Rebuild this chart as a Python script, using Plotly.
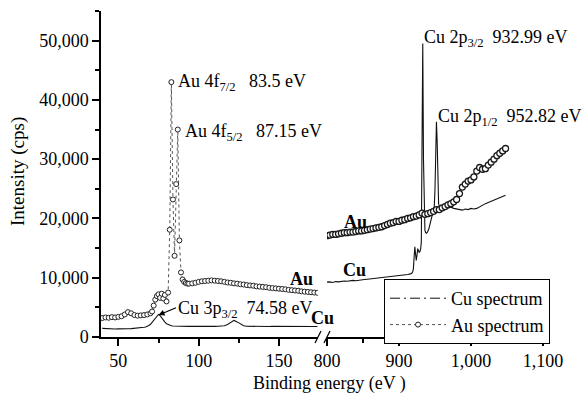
import plotly.graph_objects as go

# ---------------- data ----------------
# Au spectrum, low binding-energy window (eV, cps)
AU_L_E = list(range(40, 71, 2)) + list(range(71, 82)) + list(range(82, 94)) + list(range(94, 175, 2))
AU_L_V = ([3200, 3300, 3250, 3350, 3300, 3400, 3500, 3800, 4200, 4000, 3700, 3600, 3650, 3700, 3800, 4000]
          + [4300, 5300, 6300, 6900, 7200, 6600, 7300, 6500, 7100, 6000, 7500]
          + [18100, 43000, 23200, 13700, 25800, 35000, 16300, 10900, 9700, 9300, 9100, 9000]
          + [9000, 9050, 9150, 9300, 9400, 9450, 9500, 9550, 9500, 9450,
             9400, 9300, 9200, 9150, 9050, 9000, 8900, 8850, 8750, 8700,
             8650, 8550, 8500, 8450, 8400, 8300, 8250, 8200, 8150, 8100,
             8050, 7950, 7900, 7850, 7800, 7700, 7650, 7600, 7550, 7500, 7450])

# Cu spectrum, low binding-energy window
CU_L_E = list(range(40, 65, 2)) + list(range(65, 85)) + list(range(86, 175, 2))
CU_L_V = ([1450, 1400, 1420, 1380, 1350, 1370, 1340, 1380, 1400, 1420, 1450, 1480, 1550]
          + [1600, 1650, 1700, 1800, 1950, 2150, 2450, 2800, 3150, 3500,
             3800, 3600, 3200, 2850, 2500, 2250, 2100, 1950, 1900, 1850]
          + [1820, 1800, 1830, 1800, 1790, 1820, 1800, 1810, 1790, 1800,
             1820, 1800, 1790, 1810, 1830, 1900, 2100, 2500, 2800, 2550,
             2150, 1900, 1820, 1800, 1790, 1800, 1780, 1800, 1790, 1770,
             1790, 1780, 1770, 1790, 1760, 1780, 1770, 1760, 1780, 1770,
             1760, 1780, 1770, 1760, 1780])

# Au spectrum, high binding-energy window
AU_R_E = list(range(800, 1049, 4))
AU_R_V = [17100, 17200, 17300, 17300, 17400, 17500, 17600, 17600, 17700, 17700,
          17800, 17900, 17900, 18000, 18100, 18200, 18300, 18400, 18500, 18600,
          18800, 19000, 19200, 19300, 19500, 19500, 19700, 19800, 20000, 20100,
          20300, 20400, 20600, 20900, 20700, 20800, 21000, 21200, 21500, 21500,
          21800, 22000, 22300, 22500, 22800, 23200, 24200, 25300, 25800, 26300,
          26500, 27000, 28000, 28600, 28300, 28400, 29000, 29500, 30000, 30600,
          31000, 31400, 31800]

# Cu spectrum, high binding-energy window
CU_R_E = list(range(800, 917, 4)) + list(range(917, 961)) + list(range(964, 1049, 4))
CU_R_V = ([9250, 9300, 9200, 9350, 9300, 9400, 9450, 9400, 9500, 9550,
           9500, 9600, 9650, 9700, 9750, 9800, 9850, 9900, 9950, 10000,
           10050, 10100, 10150, 10200, 10250, 10300, 10400, 10450, 10550, 10650]
          + [10700, 10800, 11000, 11500, 13500, 15200, 14000, 12900, 13800, 14900,
             14600, 14300, 14400, 14800, 16000, 30000, 49500, 30000, 19000, 18000,
             17600, 17500, 17600, 17800, 18100, 18500, 19000, 19500, 20000, 20500,
             20800, 21200, 22000, 25000, 32000, 36300, 33000, 25000, 22500, 22000,
             21800, 21700, 21600, 21600]
          + [21700, 21800, 21900, 21700, 21600, 21500, 21400, 21600, 21500, 21700,
             21600, 21700, 22000, 22300, 22500, 22700, 22900, 23100, 23300, 23500,
             23700, 23900])

assert len(AU_L_E) == len(AU_L_V)
assert len(CU_L_E) == len(CU_L_V)
assert len(AU_R_E) == len(AU_R_V)
assert len(CU_R_E) == len(CU_R_V)

Y_TICKS = [0, 10000, 20000, 30000, 40000, 50000]
XL_TICKS = [50, 100, 150]
XR_TICKS = [800, 900, 1000, 1100]

# ---------------- layout helpers ----------------
W, H = 583, 394
ML, MR, MT, MB = 101, 40, 11, 57
PW = W - ML - MR
PH = H - MT - MB


def pxx(x):
    return (x - ML) / PW


def pyy(y):
    return (H - MB - y) / PH


FONT = '"Liberation Serif", "Times New Roman", Times, "DejaVu Serif", serif'
BLACK = "#000000"

fig = go.Figure()

cu_line = dict(color="#111111", width=1.1)
au_line = dict(color="#555555", width=1, dash="dot")
au_marker = dict(symbol="circle", size=5, color="white", line=dict(color="#222222", width=1))
au_marker_r = dict(symbol="circle", size=6, color="white", line=dict(color="#1a1a1a", width=1.3))

fig.add_trace(go.Scatter(x=CU_L_E, y=CU_L_V, mode="lines", line=cu_line,
                         xaxis="x", yaxis="y", showlegend=False))
fig.add_trace(go.Scatter(x=CU_R_E, y=CU_R_V, mode="lines", line=cu_line,
                         xaxis="x2", yaxis="y", showlegend=False))
fig.add_trace(go.Scatter(x=AU_L_E, y=AU_L_V, mode="lines+markers", line=au_line,
                         marker=au_marker, xaxis="x", yaxis="y", showlegend=False))
fig.add_trace(go.Scatter(x=AU_R_E, y=AU_R_V, mode="lines+markers", line=au_line,
                         marker=au_marker_r, xaxis="x2", yaxis="y", showlegend=False))

# legend entries
fig.add_trace(go.Scatter(x=[None], y=[None], mode="lines", name="Cu spectrum",
                         line=dict(color="#111111", width=1, dash="10px,4px,2px,4px"),
                         xaxis="x", yaxis="y"))
fig.add_trace(go.Scatter(x=[None], y=[None], mode="lines+markers", name="Au spectrum",
                         line=au_line, marker=au_marker, xaxis="x", yaxis="y"))

axis_common = dict(
    showline=True, linecolor=BLACK, linewidth=1.5, ticks="outside", ticklen=7,
    tickwidth=1.5, tickcolor=BLACK, showgrid=False, zeroline=False,
    tickfont=dict(family=FONT, size=18, color=BLACK), tickformat=",",
)

fig.update_layout(
    width=W, height=H,
    margin=dict(l=ML, r=MR, t=MT, b=MB),
    paper_bgcolor="white", plot_bgcolor="white",
    font=dict(family=FONT, size=18, color=BLACK),
    xaxis=dict(domain=[0, pxx(318)], range=[39.2, 174.3], anchor="y",
               tickvals=XL_TICKS,
               minor=dict(dtick=25, tick0=0, ticks="outside", ticklen=4, tickwidth=1.5, tickcolor=BLACK),
               **axis_common),
    xaxis2=dict(domain=[pxx(327), 1], range=[800, 1100], anchor="y",
                tickvals=XR_TICKS,
                minor=dict(dtick=50, tick0=0, ticks="outside", ticklen=4, tickwidth=1.5, tickcolor=BLACK),
                **axis_common),
    yaxis=dict(domain=[0, 1], range=[0, 55000], anchor="x",
               tickvals=Y_TICKS,
               minor=dict(dtick=5000, tick0=0, ticks="outside", ticklen=4, tickwidth=1.5, tickcolor=BLACK),
               **axis_common),
    legend=dict(x=pxx(384), y=pyy(279), xanchor="left", yanchor="top",
                bgcolor="white", bordercolor=BLACK, borderwidth=1, itemwidth=56,
                font=dict(family=FONT, size=18, color=BLACK), tracegroupgap=0),
)

NB = "&nbsp;"
ann = [
    ("Au 4f<sub>7/2</sub>" + NB * 3 + "83.5 eV", 176, 83, "left", 18, 0),
    ("Au 4f<sub>5/2</sub>" + NB * 3 + "87.15 eV", 183, 132, "left", 18, 0),
    ("Cu 2p<sub>3/2</sub>" + NB * 2 + "932.99 eV", 422, 39, "left", 18, 0),
    ("Cu 2p<sub>1/2</sub>" + NB * 2 + "952.82 eV", 436, 117, "left", 18, 0),
    ("Cu 3p<sub>3/2</sub>" + NB * 2 + "74.58 eV", 176, 309, "left", 18, 0),
    ("<b>Au</b>", 301, 279, "center", 18, 0),
    ("<b>Cu</b>", 322, 318, "center", 18, 0),
    ("<b>Au</b>", 355, 222, "center", 18, 0),
    ("<b>Cu</b>", 354, 270, "center", 18, 0),
    ("Binding energy (eV )", 329, 383, "center", 18, 0),
    ("Intensity (cps)", 18, 172, "center", 19, -90),
]
for text, x, y, xa, size, ang in ann:
    fig.add_annotation(text=text, x=pxx(x), y=pyy(y), xref="paper", yref="paper",
                       xanchor=xa, yanchor="middle", showarrow=False, textangle=ang,
                       font=dict(family=FONT, size=size, color=BLACK))

# arrow for Cu 3p label
fig.add_annotation(x=75, y=3700, xref="x", yref="y", ax=19, ay=-8,
                   axref="pixel", ayref="pixel", showarrow=True, arrowhead=2,
                   arrowsize=1, arrowwidth=1.2, arrowcolor=BLACK, text="")

# axis break marks
for x0, x1 in [(315, 321), (324, 330)]:
    fig.add_shape(type="line", xref="paper", yref="paper",
                  x0=pxx(x0), y0=pyy(343), x1=pxx(x1), y1=pyy(331),
                  line=dict(color=BLACK, width=1.3))

fig.write_html("out.html")
